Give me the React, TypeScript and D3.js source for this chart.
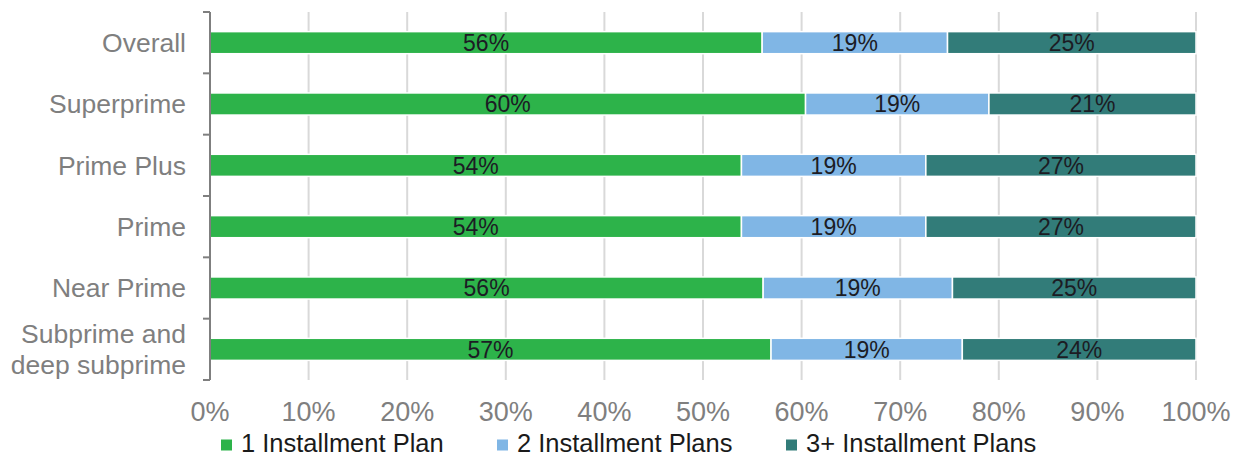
import React from "react";
import * as d3 from "d3";

const categories: string[][] = [
  ["Overall"],
  ["Superprime"],
  ["Prime Plus"],
  ["Prime"],
  ["Near Prime"],
  ["Subprime and", "deep subprime"],
];
const seriesNames = ["1 Installment Plan", "2 Installment Plans", "3+ Installment Plans"];
const onePlan = [56.0, 60.4, 53.9, 53.9, 56.1, 56.9];
const twoPlans = [18.8, 18.6, 18.7, 18.7, 19.2, 19.4];
const threePlus = [25.2, 21.0, 27.4, 27.4, 24.7, 23.7];
const xTicks = [0, 10, 20, 30, 40, 50, 60, 70, 80, 90, 100];
const colors = ["#2DB34A", "#80B6E5", "#327C79"];

const W = 1240;
const H = 457;
const left = 210;
const right = 1196;
const top = 12;
const bottom = 380;
const FONT = "'Liberation Sans', Arial, sans-serif";

export default function App() {
  const x = d3.scaleLinear().domain([0, 100]).range([left, right]);
  const y = d3
    .scaleBand<number>()
    .domain(d3.range(categories.length))
    .range([top, bottom])
    .paddingInner(0.64)
    .paddingOuter(0.32);
  const bandStep = (bottom - top) / categories.length;

  const rows = categories.map((c, i) => ({ 0: onePlan[i], 1: twoPlans[i], 2: threePlus[i] }));
  const stack = d3.stack<any>().keys(["0", "1", "2"])(rows);

  const legendX = [241, 517, 806];

  return (
    <svg
      width={W}
      height={H}
      style={{ position: "absolute", left: 0, top: 0, background: "#fff" }}
      fontFamily={FONT}
    >
      {/* gridlines */}
      {xTicks.slice(1).map((t) => (
        <line key={t} x1={x(t)} x2={x(t)} y1={top} y2={bottom} stroke="#D9D9D9" strokeWidth={2} />
      ))}
      {/* bars */}
      {stack.map((s, si) =>
        s.map((d, i) => (
          <rect
            key={`${si}-${i}`}
            x={x(d[0])}
            width={x(d[1]) - x(d[0])}
            y={y(i)!}
            height={y.bandwidth()}
            fill={colors[si]}
            stroke="#fff"
            strokeWidth={1.5}
          />
        ))
      )}
      {/* data labels */}
      {stack.map((s, si) =>
        s.map((d, i) => (
          <text
            key={`l${si}-${i}`}
            x={(x(d[0]) + x(d[1])) / 2}
            y={y(i)! + y.bandwidth() / 2}
            dy="0.36em"
            textAnchor="middle"
            fontSize={23}
            fill="#1C1C24"
          >
            {d3.format(".0f")(d[1] - d[0])}%
          </text>
        ))
      )}
      {/* y axis */}
      <line x1={left} x2={left} y1={top} y2={bottom} stroke="#7F7F7F" strokeWidth={2} />
      {d3.range(categories.length + 1).map((k) => (
        <line
          key={k}
          x1={left - 7}
          x2={left}
          y1={top + k * bandStep}
          y2={top + k * bandStep}
          stroke="#7F7F7F"
          strokeWidth={2}
        />
      ))}
      {categories.map((lines, i) => {
        const cy = y(i)! + y.bandwidth() / 2;
        const lh = 31;
        return (
          <text key={i} textAnchor="end" fontSize={26.5} fill="#7F7F7F">
            {lines.map((ln, j) => (
              <tspan key={j} x={186} y={cy + (j - (lines.length - 1) / 2) * lh} dy="0.35em">
                {ln}
              </tspan>
            ))}
          </text>
        );
      })}
      {/* x tick labels */}
      {xTicks.map((t) => (
        <text key={t} x={x(t)} y={421} textAnchor="middle" fontSize={27} fill="#7F7F7F">
          {t}%
        </text>
      ))}
      {/* legend */}
      {seriesNames.map((n, i) => (
        <g key={n}>
          <rect x={legendX[i] - 20} y={439.5} width={11} height={11} fill={colors[i]} />
          <text x={legendX[i]} y={451.5} fontSize={25.5} fill="#1A1A1A">
            {n}
          </text>
        </g>
      ))}
    </svg>
  );
}
